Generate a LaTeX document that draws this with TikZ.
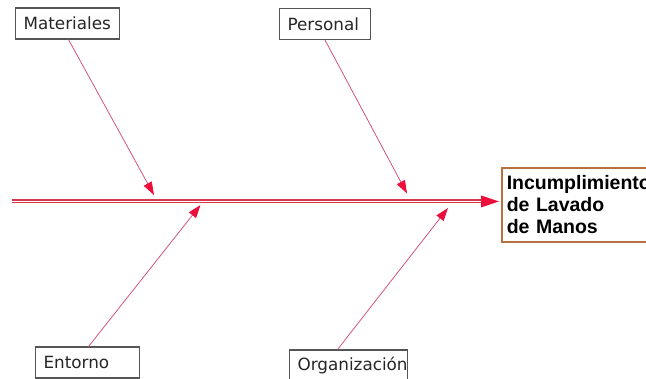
\documentclass[tikz,border=0pt]{standalone}
\usepackage{fontspec}
\setmainfont{DejaVu Sans}
\newfontfamily\effectfont{Liberation Sans}
\usetikzlibrary{arrows.meta}
\definecolor{spinered}{HTML}{D8384E}
\definecolor{tipred}{HTML}{EC0F3C}
\definecolor{bonepink}{HTML}{D2567A}
\definecolor{boxgray}{HTML}{555555}
\definecolor{effbrown}{HTML}{B8703E}
\tikzset{
  causebox/.style={draw=boxgray, line width=1.1pt, fill=white, text=black!85,
    minimum height=31pt, inner xsep=8pt, align=left, anchor=north west,
    font=\fontsize{16.8}{19}\selectfont},
  bone/.style={draw=bonepink, line width=0.8pt,
    -{Triangle[length=13pt,width=9pt,color=tipred]}},
  effectbox/.style={draw=effbrown, line width=1.6pt, fill=white, anchor=north west,
    minimum width=160pt, minimum height=74pt, align=left, text width=150pt,
    inner xsep=5pt, inner ysep=3pt, font=\effectfont\bfseries\fontsize{19.5}{22}\selectfont}
}
\begin{document}
\begin{tikzpicture}[x=1pt,y=-1pt]
\useasboundingbox (0,0) rectangle (646,379);
% spine
\coordinate (s0) at (12,201.5);
\coordinate (s1) at (499,201.5);
\draw[spinered, line width=4pt] (s0) -- (485,201.5);
\draw[white, line width=1.8pt] (s0) -- (485,201.5);
\node[effectbox] (eff) at (501,167) {Incumplimiento\\de Lavado\\de Manos};
\draw[draw=none, fill=tipred] (s1) -- (481,195.5) -- (481,207.5) -- cycle;
% cause boxes
\node[causebox, text width=88pt] (mat) at (15,7.5) {Materiales};
\node[causebox, text width=75pt] (per) at (279,8) {Personal};
\node[causebox, text width=88pt] (ent) at (35,346.5) {Entorno};
\node[causebox, text width=102pt] (org) at (289,349.5) {Organización};
% tip coordinates on spine
\coordinate (tmat) at (154,195);
\coordinate (tper) at (407,193.5);
\coordinate (tent) at (200.5,205);
\coordinate (torg) at (448,208);
\draw[bone] ([xshift=1pt]mat.south) -- (tmat);
\draw[bone] (per.south) -- (tper);
\draw[bone] ([xshift=1pt]ent.north) -- (tent);
\draw[bone] ([xshift=-11pt]org.north) -- (torg);
\end{tikzpicture}
\end{document}
